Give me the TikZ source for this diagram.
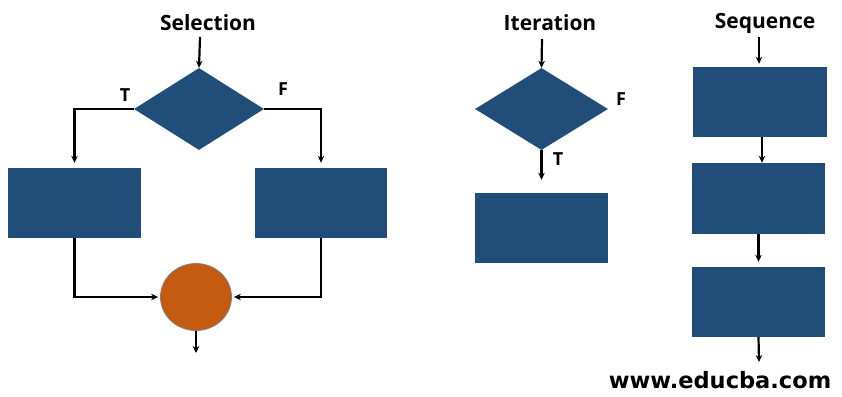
\documentclass[tikz,border=0pt]{standalone}
\usepackage{fontspec}
\setmainfont{Open Sans}
\newfontfamily\urlfont{DejaVu Sans}
\usetikzlibrary{shapes.geometric,arrows.meta,calc}
\definecolor{boxblue}{RGB}{33,78,121}
\definecolor{joinorange}{RGB}{197,90,17}
\tikzset{
  arr/.style={draw=black,line width=2.2pt,-{Stealth[length=7pt,width=6.5pt]}},
  blk/.style={draw=none,fill=boxblue,rectangle,inner sep=0pt},
  dec/.style={draw=none,fill=boxblue,diamond,inner sep=0pt},
  title/.style={font=\bfseries\fontsize{21}{24}\selectfont,anchor=base,inner sep=0pt},
  lbl/.style={font=\bfseries\fontsize{18}{21}\selectfont,anchor=base,inner sep=0pt},
}
\begin{document}
\begin{tikzpicture}[x=1pt,y=-1pt]
\useasboundingbox (0,0) rectangle (842,396);
% ---------- Selection ----------
\node[title] (seltitle) at (208,31) {Selection};
\coordinate (selin) at (200,37);
\node[dec,minimum width=130pt,minimum height=82pt] (d1) at (199,109) {};
\node[lbl] (selT) at (125,101) {T};
\node[lbl] (selF) at (283,95) {F};
\node[blk,minimum width=133pt,minimum height=70pt] (r1) at (74.5,203) {};
\node[blk,minimum width=132pt,minimum height=70pt] (r2) at (321,203) {};
\node[ellipse,fill=joinorange,draw=gray,line width=0.8pt,minimum width=71pt,minimum height=67pt,inner sep=0pt] (c) at (196,297) {};
\coordinate (selout) at (196,353);
\draw[arr] (selin) -- (d1.north);
\draw[arr,shorten >=5pt] (d1.west) -| (r1.north);
\draw[arr,shorten >=5pt] (d1.east) -| (r2.north);
\draw[arr,shorten >=2pt] (r1.south) |- (c.west);
\draw[arr,shorten >=2pt] (r2.south) |- (c.east);
\draw[arr] (c.south) -- (selout);
% ---------- Iteration ----------
\node[title] (ittitle) at (550,31) {Iteration};
\coordinate (itin) at (542,39);
\node[dec,minimum width=133pt,minimum height=82pt] (d2) at (541.5,109) {};
\node[lbl] (itF) at (621,105) {F};
\node[lbl] (itT) at (558,165) {T};
\node[blk,minimum width=133pt,minimum height=70pt] (r3) at (541.5,228) {};
\draw[arr] (itin) -- (d2.north);
\draw[arr,shorten >=13pt] (d2.south) -- (r3.north);
% ---------- Sequence ----------
\node[title] (seqtitle) at (765,29) {Sequence};
\coordinate (seqin) at (759,37);
\node[blk,minimum width=134pt,minimum height=70pt] (s1) at (760,102) {};
\node[blk,minimum width=133pt,minimum height=71pt] (s2) at (758.5,198.5) {};
\node[blk,minimum width=133pt,minimum height=70pt] (s3) at (758.5,302) {};
\coordinate (seqout) at (759,362);
\draw[arr,shorten >=3pt] (seqin) -- (s1.north -| seqin);
\draw[arr] ([xshift=2pt]s1.south) -- ([xshift=2pt]s1.south |- s2.north);
\draw[arr,shorten >=5pt] (s2.south) -- (s3.north);
\draw[arr] (s3.south) -- (seqout);
% ---------- footer ----------
\node[font=\urlfont\bfseries\fontsize{22.5}{24}\selectfont,anchor=base,inner sep=0pt] (url) at (720,388) {www.educba.com};
\end{tikzpicture}
\end{document}
